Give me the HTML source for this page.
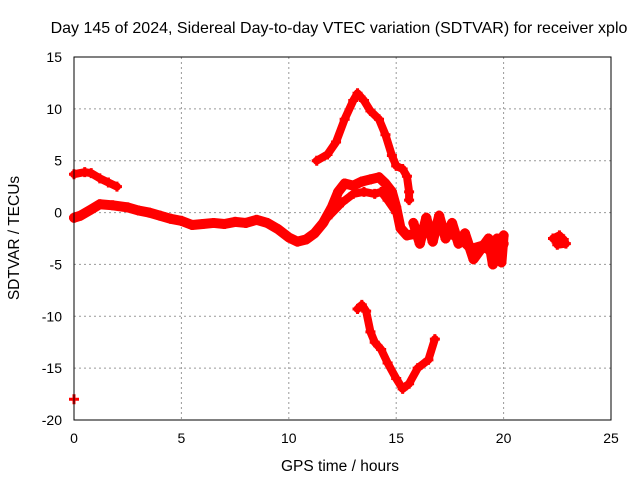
<!DOCTYPE html>
<html><head><meta charset="utf-8"><style>
body{margin:0;background:#fff}
svg{font-family:"Liberation Sans",sans-serif;font-size:14px}
</style></head><body>
<svg id="chart" width="640" height="480">
<text x="339" y="33" text-anchor="middle" font-size="16">Day 145 of 2024, Sidereal Day-to-day VTEC variation (SDTVAR) for receiver xplo</text>
<g id="grid"></g><g id="ticks"></g><g id="marks"></g>
<rect x="74" y="57" width="537" height="363" fill="none" stroke="#000"/>
<text x="340" y="471" text-anchor="middle" font-size="15.5">GPS time / hours</text>
<text transform="translate(19,238) rotate(-90)" text-anchor="middle" font-size="15.5">SDTVAR / TECUs</text>
</svg>
<script>
const xTicks=[0,5,10,15,20,25];
const yTicks=[15,10,5,0,-5,-10,-15,-20];
const seriesA=[[0,3.7],[0.5,3.9],[0.8,3.8],[1.2,3.3],[1.6,2.9],[2.0,2.5]];
const seriesB=[[0,-0.5],[0.3,-0.3],[0.8,0.3],[1.2,0.8],[1.8,0.7],[2.5,0.5],[3,0.2],[3.5,0],[4,-0.3],[4.5,-0.6],[5,-0.8],[5.5,-1.2],[6,-1.1],[6.5,-1.0],[7,-1.1],[7.5,-0.9],[8,-1.0],[8.5,-0.7],[9,-1.0],[9.5,-1.6],[10,-2.4],[10.4,-2.8],[10.8,-2.6],[11.2,-2.0],[11.6,-1.0],[12,0.5],[12.3,2.0],[12.6,2.8],[13,2.6],[13.4,3.0],[13.8,3.2],[14.2,3.4],[14.5,2.8],[14.8,2.0],[15.0,0.5],[15.2,-1.5],[15.5,-2.2],[16,-2.0],[16.5,-1.8],[17,-1.5],[17.5,-2.0],[18,-2.5],[18.5,-3.5],[19,-3.2],[19.5,-3.8],[19.8,-4.0],[20,-3.0]];
const seriesC=[[11.8,-0.5],[12.5,1.0],[13,1.8],[13.5,2.0],[14,1.8],[14.3,2.0],[14.6,1.2],[15,0.0]];
const seriesD=[[11.3,5.0],[11.8,5.6],[12.2,6.8],[12.6,9.0],[13,10.8],[13.2,11.5],[13.5,10.8],[13.8,9.8],[14.2,9.0],[14.5,7.5],[14.8,5.5],[15,4.5],[15.3,4.2],[15.5,3.5],[15.6,2.0],[15.6,1.2]];
const seriesE=[[13.2,-9.3],[13.4,-8.9],[13.6,-9.5],[13.8,-11.5],[14,-12.5],[14.3,-13.2],[14.6,-14.5],[15,-16.0],[15.3,-17.0],[15.6,-16.5],[16,-15.0],[16.5,-14.2],[16.8,-12.2]];
const seriesF=[[15.8,-1.0],[16.1,-3.0],[16.4,-0.5],[16.7,-2.8],[17.0,-0.3],[17.3,-2.5],[17.6,-1.0],[17.9,-3.0],[18.2,-2.0],[18.6,-4.5],[19.3,-2.5],[19.5,-5.0],[19.7,-2.5],[19.9,-4.8],[20,-2.2]];
const seriesG=[[22.3,-2.5],[22.6,-2.2],[22.9,-3.0],[22.5,-3.1],[22.8,-2.6]];
const seriesH=[[0,-18]];
const X=h=>74+h*537/25, Y=v=>57+(15-v)*363/35;
const ns="http://www.w3.org/2000/svg";
const mk=(t,a,p)=>{const e=document.createElementNS(ns,t);for(const k in a)e.setAttribute(k,a[k]);p.appendChild(e);return e;};
const grid=document.getElementById('grid'),ticks=document.getElementById('ticks'),marks=document.getElementById('marks');
xTicks.forEach(t=>{
  if(t>0&&t<25){const l=mk('line',{x1:X(t),x2:X(t),y1:57,y2:420,stroke:'#999','stroke-dasharray':'2,3'},grid);
  
  }
  const s=mk('text',{x:X(t),y:443,'text-anchor':'middle'},ticks);s.textContent=t;
  
  
});
yTicks.forEach(t=>{
  if(t<15&&t>-20){const l=mk('line',{x1:74,x2:611,y1:Y(t),y2:Y(t),stroke:'#999','stroke-dasharray':'2,3'},grid);
  
  }
  const s=mk('text',{x:62,y:Y(t)+5,'text-anchor':'end'},ticks);s.textContent=t;
  
  
});
[seriesA,seriesB,seriesC,seriesD,seriesE,seriesF,seriesG,seriesH].forEach((s,i)=>{
  const pts=s.map(p=>X(p[0])+','+Y(p[1])).join(' ');
  const pl=mk('polyline',{points:pts,fill:'none',stroke:'#f00','stroke-width':(i===1||i===5)?10:8,'stroke-linejoin':'round','stroke-linecap':'round'},marks);
  
  
  s.forEach(p=>{
    const x=X(p[0]),y=Y(p[1]);
    const m=mk('path',{d:`M${x-5},${y}H${x+5}M${x},${y-5}V${y+5}`,stroke:'#f00','stroke-width':3},marks);
    
    
  });
});
</script>
</body></html>
